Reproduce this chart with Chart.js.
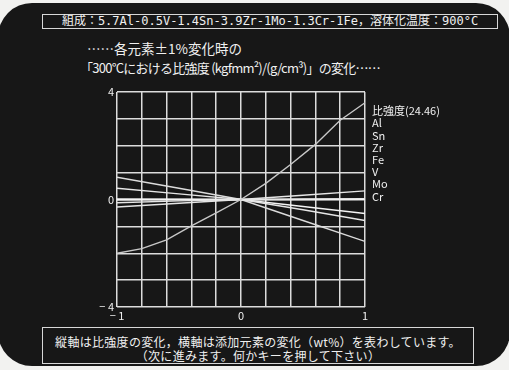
<!DOCTYPE html>
<html>
<head>
<meta charset="utf-8">
<script src="https://cdn.jsdelivr.net/npm/chart.js@4/dist/chart.umd.min.js"></script>
<style>
  html, body { margin: 0; padding: 0; background: #f2f2f0; }
  #wrap { position: relative; width: 509px; height: 370px; overflow: hidden; }
  #screen { position: absolute; left: -2px; top: 3px; width: 512px; height: 363px;
            background: #171717; border-radius: 34px; }
  .txt { position: absolute; color: #f0f0f0; font-family: "Noto Sans CJK JP", sans-serif; white-space: nowrap; }
  .mono { font-family: "DejaVu Sans Mono", "Noto Sans CJK JP", monospace; }
  .box { position: absolute; border: 1.5px solid #d8d8d8; box-sizing: border-box; }
  canvas { position: absolute; left: 0; top: 0; }
</style>
</head>
<body>
<div id="wrap">
  <div id="screen"></div>
  <div class="box" style="left:42px; top:14px; width:456px; height:15px;"></div>
  <div class="txt mono" style="left:42px; width:456px; top:13px; font-size:12px; line-height:16px; text-align:center;">組成：5.7Al-0.5V-1.4Sn-3.9Zr-1Mo-1.3Cr-1Fe，溶体化温度：900°C</div>
  <div class="txt" style="left:87px; top:39px; font-size:13.5px; line-height:18px;">……各元素±1%変化時の</div>
  <div class="txt" style="left:80px; top:59px; font-size:13px; line-height:18px; letter-spacing:-0.75px;">「300°Cにおける比強度 (kgfmm²)/(g/cm³)」の変化……</div>
  <div class="box" style="left:42px; top:327px; width:432px; height:37px;"></div>
  <div class="txt" style="left:42px; width:432px; top:335px; font-size:12px; line-height:13.5px; letter-spacing:0.3px; text-align:center;">縦軸は比強度の変化，横軸は添加元素の変化（wt%）を表わしています。<br>（次に進みます。何かキーを押して下さい）</div>
  <canvas id="myChart" width="509" height="370"></canvas>
</div>
<script>
// x positions (wt% change) and the specific-strength change for each element
var xFine = [-1, -0.8, -0.6, -0.4, -0.2, 0, 0.2, 0.4, 0.6, 0.8, 1];
var xCoarse = [-1, -0.5, 0, 0.5, 1];
var alVals = [-2.0, -1.83, -1.5, -0.98, -0.5, 0, 0.6, 1.3, 2.05, 2.95, 3.6];
var snVals = [-0.28, -0.14, 0, 0.16, 0.32];
var zrVals = [-0.12, -0.05, 0, 0.02, 0.03];
var feVals = [0.42, 0.21, 0, -0.38, -0.78];
var vVals = [0.02, 0.01, 0, -0.26, -0.52];
var moVals = [0.83, 0.42, 0, -0.78, -1.56];
var crVals = [-0.01, 0, 0, 0, 0.01];
var legendTitle = '比強度(24.46)';
var yTickLabels = {'4': '4', '0': '0', '-4': '− 4'};
var xTickLabels = {'-1': '− 1', '0': '0', '1': '1'};

function pts(xs, ys) {
    return xs.map(function(x, i) { return {x: x, y: ys[i]}; });
}

function line(label, xs, ys, color) {
    return {
        label: label,
        data: pts(xs, ys),
        borderColor: color,
        borderWidth: 1.4,
        pointRadius: 0,
        fill: false,
        tension: 0
    };
}

// legend: plain white text to the right of the plot
var textLegend = {
    id: 'textLegend',
    afterDraw: function(chart) {
        var ctx = chart.ctx;
        var x = chart.chartArea.right + 7;
        var y = 111;
        ctx.save();
        ctx.fillStyle = '#f0f0f0';
        ctx.font = '11px "Noto Sans CJK JP", sans-serif';
        ctx.textBaseline = 'middle';
        ctx.fillText(legendTitle, x, y);
        chart.data.datasets.forEach(function(ds, i) {
            ctx.fillText(ds.label, x, y + 12.2 * (i + 1));
        });
        ctx.restore();
    }
};

var ctx = document.getElementById('myChart');
var chart = new Chart(ctx, {
    type: 'line',
    data: {
        datasets: [
            line('Al', xFine, alVals, '#c8c8c8'),
            line('Sn', xCoarse, snVals, '#e6e6e6'),
            line('Zr', xCoarse, zrVals, '#e6e6e6'),
            line('Fe', xCoarse, feVals, '#e6e6e6'),
            line('V', xCoarse, vVals, '#f4f4f4'),
            line('Mo', xCoarse, moVals, '#dcdcdc'),
            line('Cr', xCoarse, crVals, '#ffffff')
        ]
    },
    options: {
        responsive: false,
        animation: false,
        layout: { padding: { left: 0, top: 92, right: 144, bottom: 0 } },
        plugins: { legend: { display: false }, tooltip: { enabled: false } },
        scales: {
            x: {
                type: 'linear',
                min: -1, max: 1,
                afterFit: function(s) { s.height = 63; },
                border: { display: false },
                grid: { color: '#dcdcdc', lineWidth: 1.5, drawTicks: false },
                ticks: {
                    stepSize: 0.2,
                    maxRotation: 0,
                    autoSkip: false,
                    padding: 2,
                    color: '#f0f0f0',
                    font: { family: '"Noto Sans CJK JP", sans-serif', size: 11 },
                    callback: function(v) {
                        var r = Math.round(v);
                        return Math.abs(v - r) < 1e-6 ? xTickLabels[String(r)] : '';
                    }
                }
            },
            y: {
                min: -4, max: 4,
                afterFit: function(s) { s.width = 117; },
                border: { display: false },
                grid: { color: '#dcdcdc', lineWidth: 1.5, drawTicks: false },
                ticks: {
                    stepSize: 1,
                    padding: 3,
                    color: '#f0f0f0',
                    font: { family: '"Noto Sans CJK JP", sans-serif', size: 11 },
                    callback: function(v) { return yTickLabels[String(v)] || ''; }
                }
            }
        }
    },
    plugins: [textLegend]
});
</script>
</body>
</html>
